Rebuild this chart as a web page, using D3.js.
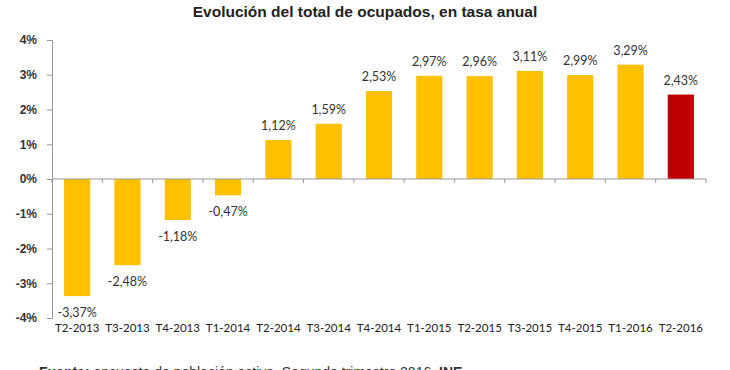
<!DOCTYPE html>
<html>
<head>
<meta charset="utf-8">
<script src="https://cdn.jsdelivr.net/npm/d3@7"></script>
<style>
	body { margin: 0; background: #fff; }
	text { font-family: Lato, "Open Sans", sans-serif; }
</style>
</head>
<body>
<div id="root"></div>
<script>
// chart data
const quarters = ["T2-2013", "T3-2013", "T4-2013", "T1-2014", "T2-2014", "T3-2014", "T4-2014",
	"T1-2015", "T2-2015", "T3-2015", "T4-2015", "T1-2016", "T2-2016"];
const rates = [-3.37, -2.48, -1.18, -0.47, 1.12, 1.59, 2.53, 2.97, 2.96, 3.11, 2.99, 3.29, 2.43];
const yTicks = [-4, -3, -2, -1, 0, 1, 2, 3, 4];
const highlight = "T2-2016";

function whenDocumentLoaded(action) {
	if (document.readyState === "loading") {
		document.addEventListener("DOMContentLoaded", action);
	} else {
		action();
	}
}

function drawChart() {
	const width = 730;
	const height = 370;
	const left = 52, right = 706, top = 40, bottom = 318;

	const svg = d3.select("#root")
		.append("svg")
		.attr("width", width)
		.attr("height", height);

	const x = d3.scaleBand().domain(quarters).range([left, right]).paddingInner(0.48).paddingOuter(0.24);
	const y = d3.scaleLinear().domain([-4, 4]).range([bottom, top]);
	const fmt = v => d3.format(".2f")(v).replace(".", ",").replace("−", "-") + "%";

	// title
	svg.append("text")
		.attr("x", 365).attr("y", 17)
		.attr("text-anchor", "middle")
		.style("font-family", "'Liberation Sans', Arial, sans-serif")
		.style("font-weight", "bold")
		.style("font-size", "15.5px")
		.attr("fill", "#222")
		.text("Evolución del total de ocupados, en tasa anual");

	// bars
	svg.selectAll(".bar")
		.data(rates)
		.enter()
		.append("rect")
		.attr("class", "bar")
		.attr("x", (d, i) => x(quarters[i]))
		.attr("width", x.bandwidth())
		.attr("y", d => y(Math.max(0, d)))
		.attr("height", d => Math.abs(y(d) - y(0)))
		.attr("fill", (d, i) => quarters[i] === highlight ? "#c00000" : "#ffc000");

	// value labels
	svg.selectAll(".val")
		.data(rates)
		.enter()
		.append("text")
		.attr("class", "val")
		.attr("x", (d, i) => x(quarters[i]) + x.bandwidth() / 2)
		.attr("y", d => d >= 0 ? y(d) - 10 : y(d) + 21)
		.attr("text-anchor", "middle")
		.style("font-size", "12.5px")
		.attr("fill", "#333")
		.text(fmt);

	// y axis
	const yAxis = svg.append("g")
		.attr("transform", "translate(" + left + ",0)")
		.call(d3.axisLeft(y).tickValues(yTicks).tickSize(5).tickFormat(d => d + "%"));
	yAxis.select(".domain").attr("stroke", "#999");
	yAxis.selectAll(".tick line").attr("stroke", "#999");
	yAxis.selectAll(".tick text")
		.attr("x", -15)
		.style("font-family", "'Liberation Sans', Arial, sans-serif")
		.style("font-weight", "bold")
		.style("font-size", "12px")
		.attr("fill", "#333");

	// zero line with category ticks
	const bounds = d3.range(quarters.length + 1).map(i => left + i * (right - left) / quarters.length);
	svg.append("line")
		.attr("x1", left).attr("x2", right)
		.attr("y1", y(0)).attr("y2", y(0))
		.attr("stroke", "#999");
	svg.selectAll(".ctick")
		.data(bounds)
		.enter()
		.append("line")
		.attr("class", "ctick")
		.attr("x1", d => d).attr("x2", d => d)
		.attr("y1", y(0)).attr("y2", y(0) + 4)
		.attr("stroke", "#999");

	// category labels
	svg.selectAll(".cat")
		.data(quarters)
		.enter()
		.append("text")
		.attr("class", "cat")
		.attr("x", d => x(d) + x.bandwidth() / 2)
		.attr("y", 332)
		.attr("text-anchor", "middle")
		.style("font-size", "11.5px")
		.attr("fill", "#222")
		.text(d => d);

	// source note (cut off at the bottom, as in the original)
	const note = svg.append("text")
		.attr("x", 39).attr("y", 377)
		.style("font-family", "'Liberation Sans', Arial, sans-serif")
		.style("font-size", "14px")
		.attr("fill", "#333");
	note.append("tspan").style("font-weight", "bold").text("Fuente:");
	note.append("tspan").text(" encuesta de población activa. Segundo trimestre 2016. ");
	note.append("tspan").style("font-weight", "bold").text("INE");
}

whenDocumentLoaded(drawChart);
</script>
</body>
</html>
